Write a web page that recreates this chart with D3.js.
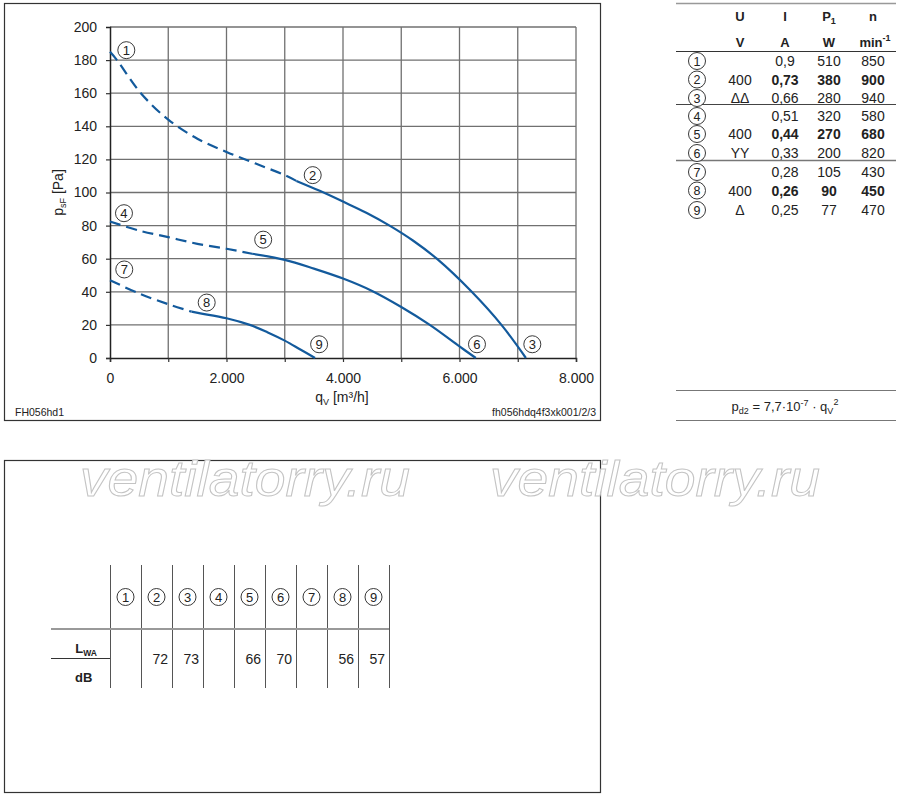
<!DOCTYPE html>
<html>
<head>
<meta charset="utf-8">
<script src="https://cdn.jsdelivr.net/npm/d3@7"></script>
<style>
  body { margin: 0; background: #fff; }
  svg { font-family: "Liberation Sans", Arial, sans-serif; }
</style>
</head>
<body>
<div class="chart"></div>
<script>
var svgWidth = 900;
var svgHeight = 797;

// curve data [q_V m3/h, p_sF Pa]
var curve1Dashed = [[0, 185], [120, 180], [530, 160], [1000, 144], [1500, 132.5], [2000, 124.5], [2500, 117.5], [3000, 110.5], [3200, 107]];
var curve1Solid = [[3200, 107], [3600, 101], [4000, 94.5], [4400, 87.8], [4800, 80], [5200, 71], [5610, 60], [6210, 40], [6720, 20], [7140, 0]];
var curve2Dashed = [[0, 82.5], [500, 77], [1000, 73], [1500, 69], [2000, 66], [2440, 63]];
var curve2Solid = [[2440, 63], [3000, 59.3], [3500, 54], [4000, 48], [4500, 40.5], [5000, 30.8], [5490, 20], [6000, 7], [6280, 0]];
var curve3Dashed = [[0, 47], [500, 39], [1000, 32.5], [1400, 28]];
var curve3Solid = [[1400, 28], [1550, 27], [2000, 24], [2400, 20], [2700, 15.6], [3000, 10.5], [3260, 5.3], [3520, 0]];

var pointLabels = ["1", "2", "3", "4", "5", "6", "7", "8", "9"];
var pointLabelPos = [[280, 186], [3480, 110.5], [7250, 8.3], [240, 87.5], [2630, 71.5], [6300, 8.3], [245, 53.5], [1660, 33.5], [3590, 8.3]];

var xTicks = [0, 2000, 4000, 6000, 8000];
var yTicks = [0, 20, 40, 60, 80, 100, 120, 140, 160, 180, 200];

// electrical data table
var tableNums = ["1", "2", "3", "4", "5", "6", "7", "8", "9"];
var tableU = ["", "400", "ΔΔ", "", "400", "YY", "", "400", "Δ"];
var tableI = ["0,9", "0,73", "0,66", "0,51", "0,44", "0,33", "0,28", "0,26", "0,25"];
var tableP = ["510", "380", "280", "320", "270", "200", "105", "90", "77"];
var tableN = ["850", "900", "940", "580", "680", "820", "430", "450", "470"];
var tableBold = [false, true, false, false, true, false, false, true, false];

// sound table
var soundNums = ["1", "2", "3", "4", "5", "6", "7", "8", "9"];
var soundLwa = ["", "72", "73", "", "66", "70", "", "56", "57"];

var blue = "#135a9c";

var svg = d3.select(".chart")
  .append("svg")
  .attr("width", svgWidth)
  .attr("height", svgHeight);

// frames
svg.append("rect")
  .attr("x", 4.5).attr("y", 3.5).attr("width", 596).attr("height", 417)
  .attr("fill", "none").attr("stroke", "#333").attr("stroke-width", 1.2);

// scales
var x = d3.scaleLinear().domain([0, 8000]).range([110, 576]);
var y = d3.scaleLinear().domain([0, 200]).range([358, 27]);

var de = d3.formatLocale({ decimal: ",", thousands: ".", grouping: [3], currency: ["", "€"] });
var fmt = de.format(",");

// grid
var grid = svg.append("g");
grid.selectAll(".gx")
  .data(d3.range(1000, 8001, 1000))
  .enter().append("line")
  .attr("x1", d => x(d)).attr("x2", d => x(d))
  .attr("y1", y(0)).attr("y2", y(200))
  .attr("stroke", "#707070").attr("stroke-width", 1.3);
grid.selectAll(".gy")
  .data(yTicks.slice(1))
  .enter().append("line")
  .attr("x1", x(0)).attr("x2", x(8000))
  .attr("y1", d => y(d)).attr("y2", d => y(d))
  .attr("stroke", "#707070").attr("stroke-width", 1.3);

// axes
var bottomAxis = d3.axisBottom(x).tickValues(d3.range(0, 8001, 1000)).tickSize(4).tickFormat(d => xTicks.indexOf(d) >= 0 ? fmt(d) : "");
var leftAxis = d3.axisLeft(y).tickValues(yTicks).tickSize(4).tickPadding(9);

var gx = svg.append("g").attr("transform", `translate(0, ${y(0)})`).call(bottomAxis);
var gy = svg.append("g").attr("transform", `translate(${x(0)}, 0)`).call(leftAxis);
[gx, gy].forEach(function(g) {
  g.select(".domain").attr("stroke", "#222").attr("stroke-width", 1.5);
  g.selectAll(".tick line").attr("stroke", "#333").attr("stroke-width", 1.2);
  g.selectAll("text").attr("font-size", 14).attr("fill", "#222")
    .attr("font-family", "Liberation Sans, Arial, sans-serif");
});
gx.selectAll("text").attr("dy", "1.3em");
gy.select(".tick:last-of-type line").remove();

// curves
var line = d3.line()
  .x(d => x(d[0]))
  .y(d => y(d[1]))
  .curve(d3.curveCatmullRom.alpha(0.5));

[curve1Dashed, curve2Dashed, curve3Dashed].forEach(function(c) {
  svg.append("path").attr("d", line(c))
    .attr("fill", "none").attr("stroke", blue).attr("stroke-width", 2.2)
    .attr("stroke-dasharray", "11,6");
});
[curve1Solid, curve2Solid, curve3Solid].forEach(function(c) {
  svg.append("path").attr("d", line(c))
    .attr("fill", "none").attr("stroke", blue).attr("stroke-width", 2.2);
});

// circled labels
function circled(g, cx, cy, label, fs) {
  g.append("circle").attr("cx", cx).attr("cy", cy).attr("r", 8.5)
    .attr("fill", "#fff").attr("stroke", "#222").attr("stroke-width", 0.9);
  g.append("text").attr("x", cx).attr("y", cy + 4.5)
    .attr("text-anchor", "middle").attr("font-size", fs || 13).attr("fill", "#222")
    .text(label);
}
var labelG = svg.append("g");
pointLabels.forEach(function(l, i) {
  circled(labelG, x(pointLabelPos[i][0]), y(pointLabelPos[i][1]), l);
});

// axis titles
var yt = svg.append("text")
  .attr("transform", `translate(63, ${(y(0) + y(200)) / 2}) rotate(-90)`)
  .attr("text-anchor", "middle").attr("font-size", 14).attr("fill", "#222");
yt.append("tspan").text("p");
yt.append("tspan").attr("font-size", 9).attr("dy", 3).text("sF");
yt.append("tspan").attr("dy", -3).text(" [Pa]");

var xt = svg.append("text")
  .attr("x", 342).attr("y", 402)
  .attr("text-anchor", "middle").attr("font-size", 14).attr("fill", "#222");
xt.append("tspan").text("q");
xt.append("tspan").attr("font-size", 9).attr("dy", 3).text("V");
xt.append("tspan").attr("dy", -3).text(" [m³/h]");

svg.append("text").attr("x", 15).attr("y", 416).attr("font-size", 10.5).attr("fill", "#222").text("FH056hd1");
svg.append("text").attr("x", 596).attr("y", 416).attr("text-anchor", "end").attr("font-size", 10.5).attr("fill", "#222").text("fh056hdq4f3xk001/2/3");

// electrical table
var tg = svg.append("g").attr("font-size", 14).attr("fill", "#222");
var colX = [697, 740, 785, 829, 873];
tg.append("line").attr("x1", 676).attr("x2", 896).attr("y1", 3.5).attr("y2", 3.5).attr("stroke", "#999").attr("stroke-width", 1.5);
tg.append("line").attr("x1", 676).attr("x2", 896).attr("y1", 51.5).attr("y2", 51.5).attr("stroke", "#333").attr("stroke-width", 1.2);
tg.append("line").attr("x1", 676).attr("x2", 896).attr("y1", 104.5).attr("y2", 104.5).attr("stroke", "#444").attr("stroke-width", 1.2);
tg.append("line").attr("x1", 676).attr("x2", 896).attr("y1", 160.5).attr("y2", 160.5).attr("stroke", "#777").attr("stroke-width", 1.5);

var head1 = tg.append("g").attr("font-weight", "bold").attr("font-size", 13).attr("text-anchor", "middle");
head1.append("text").attr("x", colX[1]).attr("y", 21).text("U");
head1.append("text").attr("x", colX[2]).attr("y", 21).text("I");
var p1 = head1.append("text").attr("x", colX[3]).attr("y", 21);
p1.append("tspan").text("P");
p1.append("tspan").attr("font-size", 9).attr("dy", 3).text("1");
head1.append("text").attr("x", colX[4]).attr("y", 21).text("n");
head1.append("text").attr("x", colX[1]).attr("y", 47).text("V");
head1.append("text").attr("x", colX[2]).attr("y", 47).text("A");
head1.append("text").attr("x", colX[3]).attr("y", 47).text("W");
var mn = head1.append("text").attr("x", colX[4] + 2).attr("y", 47);
mn.append("tspan").text("min");
mn.append("tspan").attr("font-size", 9).attr("dy", -6).text("-1");

var rowY = [61, 79.5, 98, 116, 134, 153, 172, 190.5, 210];
tableNums.forEach(function(n, i) {
  circled(tg, colX[0], rowY[i], n, 12.5);
  var yy = rowY[i] + 5;
  tg.append("text").attr("x", colX[1]).attr("y", yy).attr("text-anchor", "middle").text(tableU[i]);
  [tableI, tableP, tableN].forEach(function(arr, k) {
    tg.append("text").attr("x", colX[k + 2]).attr("y", yy).attr("text-anchor", "middle")
      .attr("font-weight", tableBold[i] ? "bold" : "normal").text(arr[i]);
  });
});

// formula
tg.append("line").attr("x1", 676).attr("x2", 896).attr("y1", 390.5).attr("y2", 390.5).attr("stroke", "#777").attr("stroke-width", 1.2);
tg.append("line").attr("x1", 676).attr("x2", 896).attr("y1", 420.5).attr("y2", 420.5).attr("stroke", "#777").attr("stroke-width", 1.2);
var fm = tg.append("text").attr("x", 785).attr("y", 411).attr("text-anchor", "middle").attr("font-size", 13);
fm.append("tspan").text("p");
fm.append("tspan").attr("font-size", 9).attr("dy", 3).text("d2");
fm.append("tspan").attr("dy", -3).text(" = 7,7·10");
fm.append("tspan").attr("font-size", 9).attr("dy", -5).text("-7");
fm.append("tspan").attr("dy", 5).text(" · q");
fm.append("tspan").attr("font-size", 9).attr("dy", 3).text("V");
fm.append("tspan").attr("font-size", 9).attr("dy", -9).text("2");

// bottom box
svg.append("rect")
  .attr("x", 4.5).attr("y", 460.5).attr("width", 596).attr("height", 332)
  .attr("fill", "none").attr("stroke", "#333").attr("stroke-width", 1.2);

[80, 490].forEach(function(wx) {
  svg.append("text").attr("x", wx).attr("y", 496)
    .attr("font-size", 50).attr("font-style", "italic")
    .attr("textLength", 330).attr("lengthAdjust", "spacingAndGlyphs")
    .attr("fill", "#fff").attr("stroke", "#c4c4c4").attr("stroke-width", 1)
    .text("ventilatorry.ru");
});

// sound table
var sg = svg.append("g").attr("font-size", 14).attr("fill", "#222");
var sx = d3.scaleBand().domain(soundNums).range([110, 389]);
sg.selectAll(".v").data(d3.range(0, 10)).enter().append("line")
  .attr("x1", d => 110.5 + d * 31).attr("x2", d => 110.5 + d * 31)
  .attr("y1", 565).attr("y2", 688).attr("stroke", "#555").attr("stroke-width", 1);
sg.append("line").attr("x1", 51).attr("x2", 389).attr("y1", 629).attr("y2", 629).attr("stroke", "#999").attr("stroke-width", 2);
sg.append("line").attr("x1", 51).attr("x2", 110).attr("y1", 658.5).attr("y2", 658.5).attr("stroke", "#333").attr("stroke-width", 1);
soundNums.forEach(function(n, i) {
  circled(sg, sx(n) + sx.bandwidth() / 2, 597, n, 13);
  sg.append("text").attr("x", sx(n) + sx.bandwidth() - 4).attr("y", 664)
    .attr("text-anchor", "end").text(soundLwa[i]);
});
var lw = sg.append("text").attr("x", 97).attr("y", 653).attr("text-anchor", "end").attr("font-weight", "bold").attr("font-size", 13);
lw.append("tspan").text("L");
lw.append("tspan").attr("font-size", 8.5).attr("dy", 3).text("WA");
sg.append("text").attr("x", 75).attr("y", 682).attr("font-weight", "bold").attr("font-size", 13).text("dB");
</script>
</body>
</html>
